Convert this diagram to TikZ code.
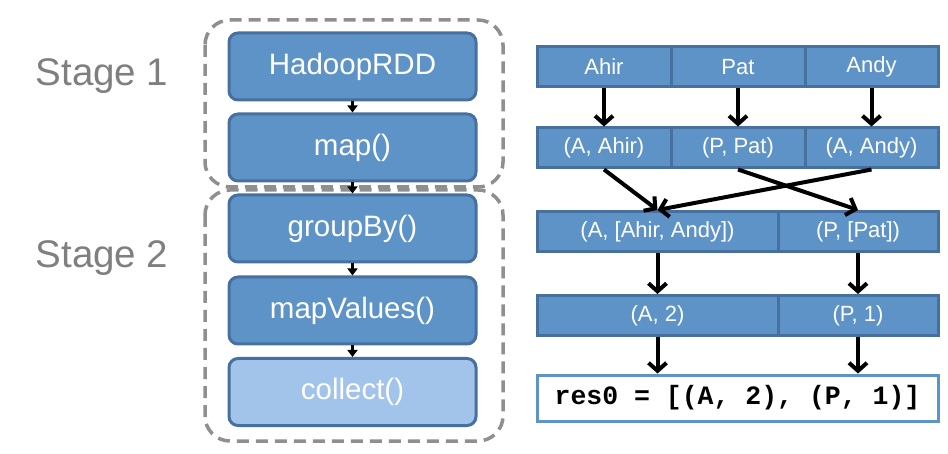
\documentclass[tikz,border=0pt]{standalone}
\usepackage{fontspec}
\setmainfont{Liberation Sans}
\setmonofont{Liberation Mono}
\usetikzlibrary{arrows.meta}
\definecolor{boxfill}{HTML}{5E93C8}
\definecolor{boxline}{HTML}{47709F}
\definecolor{lightfill}{HTML}{A2C4EA}
\definecolor{dashgray}{HTML}{8F8F8F}
\definecolor{labelgray}{HTML}{7F7F7F}
\tikzset{
  opbox/.style={draw=boxline, fill=boxfill, line width=3pt, rounded corners=9pt,
    minimum width=247pt, minimum height=67pt, text=white, inner sep=0pt,
    font=\fontsize{29.5}{31}\selectfont},
  cellbox/.style={draw=boxline, fill=boxfill, line width=3pt,
    minimum height=40pt, text=white, inner sep=0pt,
    font=\fontsize{22}{24}\selectfont},
  stagebox/.style={draw=dashgray, line width=3.5pt, rounded corners=25pt,
    dash pattern=on 12pt off 7pt},
  smallarrow/.style={line width=2.2pt, -{Triangle[length=7pt,width=10pt]}},
  bigarrow/.style={line width=4pt, -{Straight Barb[length=8pt,width=18pt]}},
  stagelabel/.style={text=labelgray, font=\fontsize{38.5}{40}\selectfont, inner sep=0pt}
}
\begin{document}
\begin{tikzpicture}[x=1pt,y=-1pt]
\useasboundingbox (0,0) rectangle (948,454);
% stage frames
\draw[stagebox] (205,20) rectangle (503,187);
\draw[stagebox] (205,190) rectangle (503,441);
\node[stagelabel] (s1) at (102,76) {Stage 1};
\node[stagelabel] (s2) at (102,258) {Stage 2};
% operator boxes
\node[opbox] (hadoop) at (352.5,66.5) {HadoopRDD};
\node[opbox] (map) at (352.5,147.5) {map()};
\node[opbox] (group) at (352.5,228.5) {groupBy()};
\node[opbox] (mapv) at (352.5,310.5) {mapValues()};
\node[opbox, fill=lightfill] (collect) at (352.5,392) {collect()};
\draw[smallarrow] (hadoop.south) -- (map.north);
\draw[smallarrow] (map.south) -- (group.north);
\draw[smallarrow] (group.south) -- (mapv.north);
\draw[smallarrow] (mapv.south) -- (collect.north);
% right side cells
\node[cellbox, minimum width=134pt] (a1) at (604,67) {Ahir};
\node[cellbox, minimum width=134pt] (a2) at (738,67) {Pat};
\node[cellbox, minimum width=133pt] (a3) at (871.5,67) {Andy};
\node[cellbox, minimum width=134pt] (b1) at (604,148) {(A, Ahir)};
\node[cellbox, minimum width=134pt] (b2) at (738,148) {(P, Pat)};
\node[cellbox, minimum width=133pt] (b3) at (871.5,148) {(A, Andy)};
\node[cellbox, minimum width=241pt] (c1) at (657.5,231.5) {(A, [Ahir, Andy])};
\node[cellbox, minimum width=160pt] (c2) at (858,231.5) {(P, [Pat])};
\node[cellbox, minimum width=241pt] (d1) at (657.5,315.5) {(A, 2)};
\node[cellbox, minimum width=160pt] (d2) at (858,315.5) {(P, 1)};
\node[draw=boxfill, fill=white, line width=3pt, minimum width=401pt, minimum height=46pt,
  inner sep=0pt, font=\fontsize{26.5}{28}\selectfont\ttfamily\bfseries] (r) at (737.5,398)
  {res0 = [(A, 2), (P, 1)]};
% arrows
\draw[bigarrow] (a1.south) -- (b1.north);
\draw[bigarrow] (a2.south) -- (b2.north);
\draw[bigarrow] (a3.south) -- (b3.north);
\draw[bigarrow] (b1.south) -- (c1.north);
\draw[bigarrow] (b3.south) -- (c1.north);
\draw[bigarrow] (b2.south) -- (c2.north);
\draw[bigarrow] (c1.south) -- (d1.north);
\draw[bigarrow] (c2.south) -- (d2.north);
\draw[bigarrow] (d1.south) -- (d1.south |- r.north);
\draw[bigarrow] (d2.south) -- (d2.south |- r.north);
\end{tikzpicture}
\end{document}
